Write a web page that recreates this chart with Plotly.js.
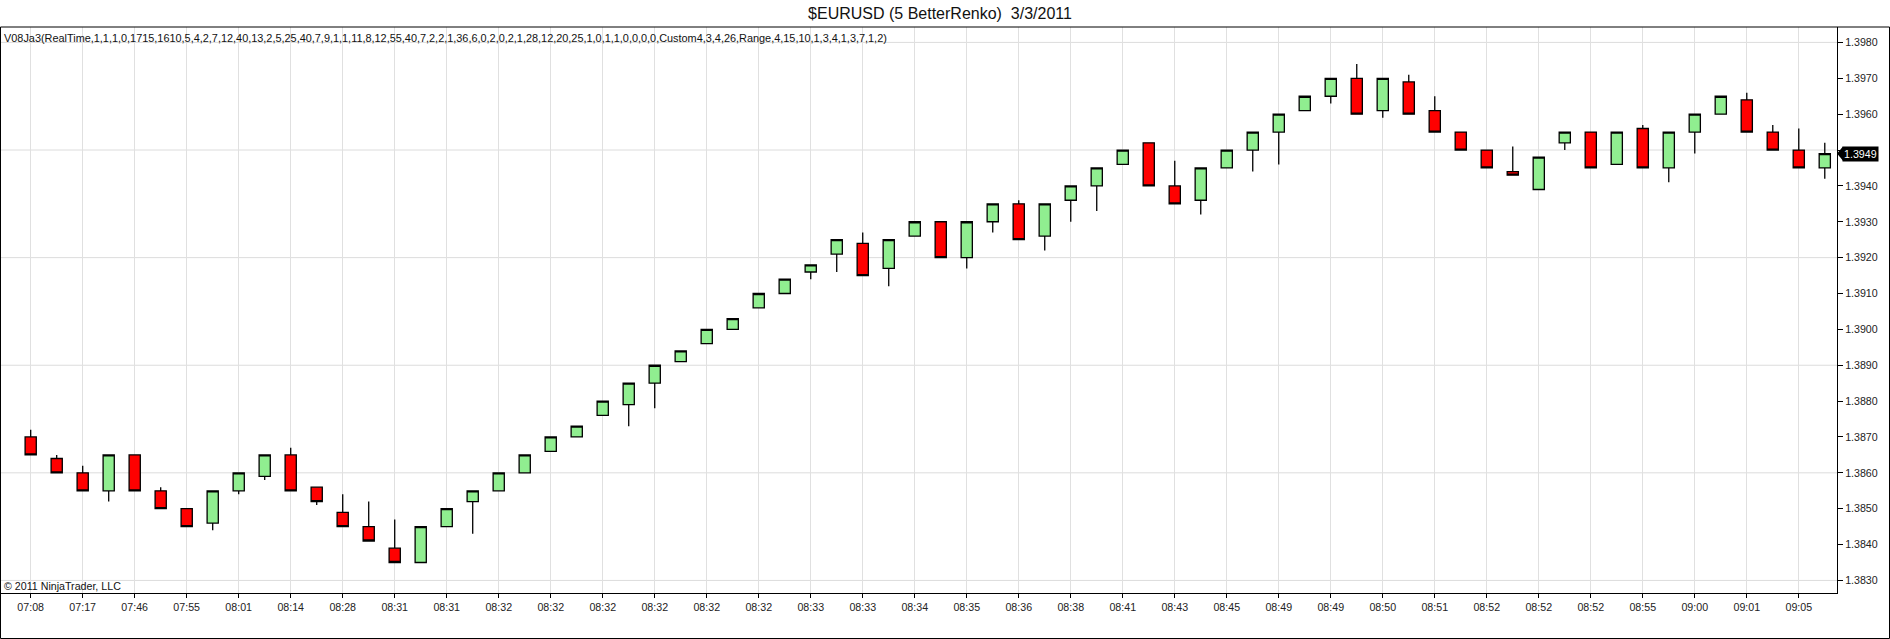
<!DOCTYPE html>
<html>
<head>
<meta charset="utf-8">
<script src="https://cdn.plot.ly/plotly-3.0.1.min.js"></script>
<style>
html,body{margin:0;padding:0;background:#fff;}
#chart{width:1890px;height:639px;}
</style>
</head>
<body>
<div id="chart"></div>
<script>
// ---- data ----
var openPrices = [1.3870,1.3864,1.3860,1.3855,1.3865,1.3855,1.3850,1.3846,1.3855,1.3859,
  1.3865,1.3856,1.3849,1.3845,1.3839,1.3835,1.3845,1.3852,1.3855,1.3860,
  1.3866,1.3870,1.3876,1.3879,1.3885,1.3891,1.3896,1.3900,1.3906,1.3910,
  1.3916,1.3921,1.3924,1.3917,1.3926,1.3930,1.3920,1.3930,1.3935,1.3926,
  1.3936,1.3940,1.3946,1.3952,1.3940,1.3936,1.3945,1.3950,1.3955,1.3961,
  1.3965,1.3970,1.3961,1.3969,1.3961,1.3955,1.3950,1.3944,1.3939,1.3952,
  1.3955,1.3946,1.3956,1.3945,1.3955,1.3960,1.3964,1.3955,1.3950,1.3945];
var highPrices = [1.3872,1.3865,1.3862,1.3865,1.3865,1.3856,1.3850,1.3855,1.3860,1.3865,
  1.3867,1.3856,1.3854,1.3852,1.3847,1.3845,1.3850,1.3855,1.3860,1.3865,
  1.3870,1.3873,1.3880,1.3885,1.3890,1.3894,1.3900,1.3903,1.3910,1.3914,
  1.3918,1.3925,1.3927,1.3925,1.3930,1.3930,1.3930,1.3935,1.3936,1.3935,
  1.3940,1.3945,1.3950,1.3952,1.3947,1.3945,1.3950,1.3955,1.3960,1.3965,
  1.3970,1.3974,1.3970,1.3971,1.3965,1.3955,1.3950,1.3951,1.3948,1.3955,
  1.3955,1.3955,1.3957,1.3955,1.3960,1.3965,1.3966,1.3957,1.3956,1.3952];
var lowPrices = [1.3865,1.3860,1.3855,1.3852,1.3855,1.3850,1.3845,1.3844,1.3854,1.3858,
  1.3855,1.3851,1.3845,1.3841,1.3835,1.3835,1.3845,1.3843,1.3855,1.3860,
  1.3866,1.3870,1.3876,1.3873,1.3878,1.3891,1.3896,1.3900,1.3906,1.3910,
  1.3914,1.3916,1.3915,1.3912,1.3926,1.3920,1.3917,1.3927,1.3925,1.3922,
  1.3930,1.3933,1.3946,1.3940,1.3935,1.3932,1.3945,1.3944,1.3946,1.3961,
  1.3963,1.3960,1.3959,1.3960,1.3955,1.3950,1.3945,1.3943,1.3939,1.3950,
  1.3945,1.3946,1.3945,1.3941,1.3949,1.3960,1.3955,1.3950,1.3945,1.3942];
var closePrices = [1.3865,1.3860,1.3855,1.3865,1.3855,1.3850,1.3845,1.3855,1.3860,1.3865,
  1.3855,1.3852,1.3845,1.3841,1.3835,1.3845,1.3850,1.3855,1.3860,1.3865,
  1.3870,1.3873,1.3880,1.3885,1.3890,1.3894,1.3900,1.3903,1.3910,1.3914,
  1.3918,1.3925,1.3915,1.3925,1.3930,1.3920,1.3930,1.3935,1.3925,1.3935,
  1.3940,1.3945,1.3950,1.3940,1.3935,1.3945,1.3950,1.3955,1.3960,1.3965,
  1.3970,1.3960,1.3970,1.3960,1.3955,1.3950,1.3945,1.3943,1.3948,1.3955,
  1.3945,1.3955,1.3945,1.3955,1.3960,1.3965,1.3955,1.3950,1.3945,1.3949];
var timeLabels = ["07:08","07:17","07:46","07:55","08:01","08:14","08:28","08:31","08:31","08:32",
  "08:32","08:32","08:32","08:32","08:32","08:33","08:33","08:34","08:35","08:36",
  "08:38","08:41","08:43","08:45","08:49","08:49","08:50","08:51","08:52","08:52",
  "08:52","08:55","09:00","09:01","09:05"];
var priceTicks = [1.3830,1.3840,1.3850,1.3860,1.3870,1.3880,1.3890,1.3900,
  1.3910,1.3920,1.3930,1.3940,1.3950,1.3960,1.3970,1.3980];
var gridLevels = [1.3830,1.3860,1.3890,1.3920,1.3950,1.3980];
var titleText = "$EURUSD (5 BetterRenko)  3/3/2011";
var indicatorText = "V08Ja3(RealTime,1,1,1,0,1715,1610,5,4,2,7,12,40,13,2,5,25,40,7,9,1,1,11,8,12,55,40,7,2,2,1,36,6,0,2,0,2,1,28,12,20,25,1,0,1,1,0,0,0,0,Custom4,3,4,26,Range,4,15,10,1,3,4,1,3,7,1,2)";
var copyrightText = "\u00a9 2011 NinjaTrader, LLC";

// ---- build ----
var barIndex = openPrices.map(function(_, i){ return i; });
var tickIdx = timeLabels.map(function(_, i){ return i * 2; });
var lastPrice = closePrices[closePrices.length - 1];

var FONT = "Arial, Liberation Sans, sans-serif";
var SMALL = 10.67;

var trace = {
  type: 'candlestick',
  x: barIndex,
  open: openPrices, high: highPrices, low: lowPrices, close: closePrices,
  increasing: {fillcolor: '#90EE90', line: {color: '#000000', width: 1.3}},
  decreasing: {fillcolor: '#FF0000', line: {color: '#000000', width: 1.3}},
  whiskerwidth: 0,
  hoverinfo: 'none',
  showlegend: false
};

// pixel helpers for paper coords (plot area x: 1..1837, y: 27..593)
function px(x){ return (x - 1) / 1836; }
function py(y){ return (593 - y) / 566; }

var yRange = [1.38265, 1.39843];

// price labels: the last-price tag covers the label at its own level
var priceTickText = priceTicks.map(function(v){
  return Math.abs(v - lastPrice) < 0.0004 ? '' : v.toFixed(4);
});

var shapes = gridLevels.map(function(v){
  return {type: 'line', xref: 'paper', yref: 'y', x0: 0, x1: 1, y0: v, y1: v,
          line: {color: '#dcdcdc', width: 1}, layer: 'below'};
});
shapes.push({type: 'rect', xref: 'paper', yref: 'paper', x0: px(0.5), x1: px(1889.5), y0: py(638.5), y1: py(27),
  line: {color: '#000000', width: 1}, fillcolor: 'rgba(0,0,0,0)', layer: 'above'});
shapes.push({type: 'path', xref: 'paper', yref: 'y',
  path: 'M ' + px(1837) + ',' + lastPrice + ' L ' + px(1843) + ',' + (lastPrice + 0.0002) + ' L ' + px(1843) + ',' + (lastPrice - 0.0002) + ' Z',
  fillcolor: '#000000', line: {color: '#000000', width: 0}, layer: 'above'});

var layout = {
  width: 1890, height: 639,
  paper_bgcolor: '#ffffff', plot_bgcolor: '#ffffff',
  margin: {l: 1, r: 53, t: 27, b: 46, pad: 0},
  font: {family: FONT, size: SMALL, color: '#222222'},
  showlegend: false,
  boxgap: 0.385,
  title: {
    text: titleText,
    font: {family: FONT, size: 16, color: '#111111'},
    xref: 'container', x: 940 / 1890, xanchor: 'center',
    yref: 'container', y: 1 - 13/639, yanchor: 'middle'
  },
  xaxis: {
    range: [-1.142, 69.47],
    autorange: false,
    rangeslider: {visible: false},
    tickmode: 'array', tickvals: tickIdx, ticktext: timeLabels,
    showgrid: true, gridcolor: '#e0e0e0', gridwidth: 1,
    zeroline: false,
    showline: true, linecolor: '#000000', linewidth: 1,
    ticks: 'outside', ticklen: 4, tickcolor: '#000000', tickwidth: 1,
    tickfont: {family: FONT, size: SMALL, color: '#222222'},
    fixedrange: true
  },
  yaxis: {
    range: yRange, autorange: false,
    side: 'right',
    tickmode: 'array', tickvals: priceTicks, ticktext: priceTickText,
    showgrid: false, zeroline: false,
    showline: true, linecolor: '#000000', linewidth: 1,
    ticks: 'outside', ticklen: 5, tickcolor: '#000000', tickwidth: 1,
    tickfont: {family: FONT, size: SMALL, color: '#222222'},
    fixedrange: true
  },
  shapes: shapes,
  annotations: [
    {text: indicatorText, xref: 'paper', yref: 'paper', x: px(2), y: py(38),
     xanchor: 'left', yanchor: 'middle', showarrow: false,
     font: {family: FONT, size: 10.9, color: '#111111'}},
    {text: copyrightText, xref: 'paper', yref: 'paper', x: px(2), y: py(586),
     xanchor: 'left', yanchor: 'middle', showarrow: false,
     font: {family: FONT, size: SMALL, color: '#111111'}},
    {text: lastPrice.toFixed(4), xref: 'paper', yref: 'y', x: px(1842), y: lastPrice,
     xanchor: 'left', yanchor: 'middle', showarrow: false,
     bgcolor: '#000000', borderpad: 1,
     font: {family: FONT, size: SMALL, color: '#ffffff'}}
  ]
};

Plotly.newPlot('chart', [trace], layout, {displayModeBar: false, staticPlot: true});
</script>
</body>
</html>
